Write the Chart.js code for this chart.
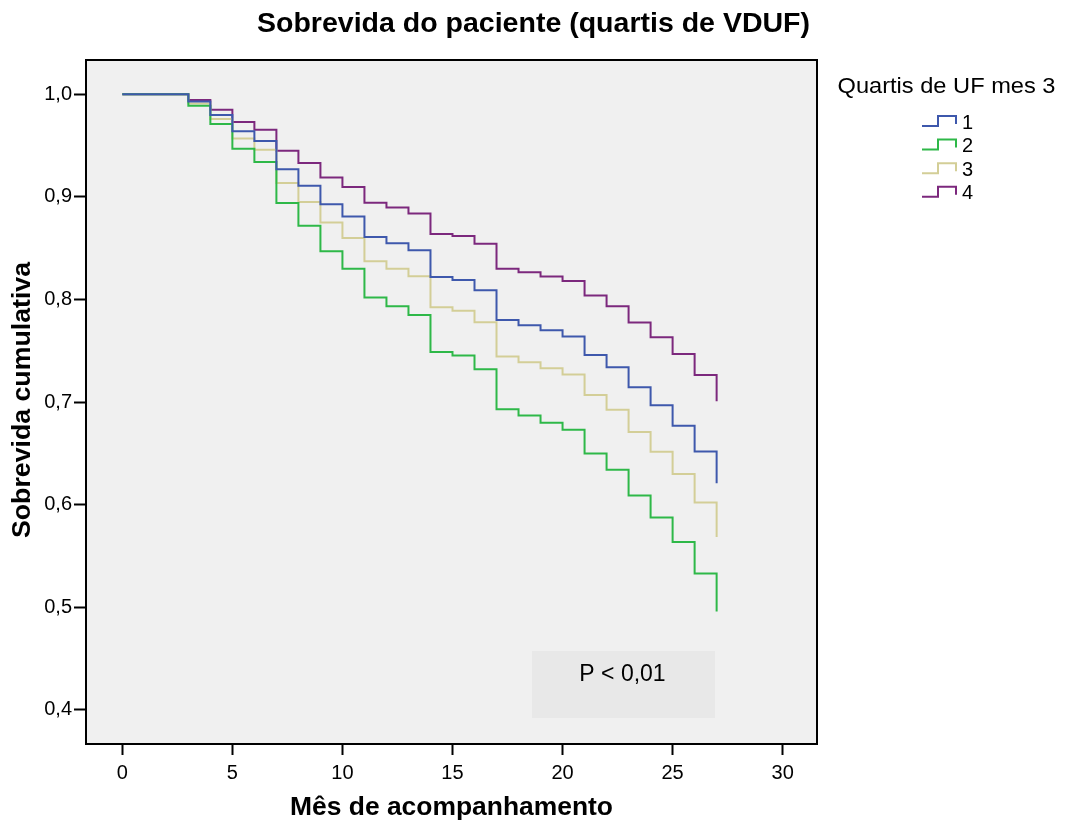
<!DOCTYPE html>
<html lang="pt">
  <head>
    <meta charset="UTF-8" />
    <title>Sobrevida do paciente</title>
    <script src="https://cdn.jsdelivr.net/npm/chart.js"></script>
    <style>
      body { margin: 0; background: #fff; }
      canvas { display: block; }
    </style>
  </head>
  <body>
    <canvas id="survChart" width="1066" height="822"></canvas>

    <script>
      // months where the curves step (0 = start of follow-up)
      const months = [0, 3, 4, 5, 6, 7, 8, 9, 10, 11, 12, 13, 14, 15, 16, 17, 18, 19, 20, 21, 22, 23, 24, 25, 26, 27];

      // cumulative survival per UF quartile
      const q1 = [1.0, 0.993, 0.980, 0.964, 0.9545, 0.927, 0.911, 0.893, 0.881, 0.861, 0.855, 0.848, 0.822, 0.819, 0.809, 0.780, 0.775, 0.770, 0.764, 0.746, 0.734, 0.7145, 0.697, 0.677, 0.652, 0.621];
      const q2 = [1.0, 0.989, 0.971, 0.947, 0.934, 0.894, 0.872, 0.847, 0.830, 0.802, 0.7935, 0.785, 0.749, 0.7454, 0.732, 0.693, 0.687, 0.680, 0.673, 0.650, 0.634, 0.609, 0.5876, 0.5636, 0.533, 0.496];
      const q3 = [1.0, 0.991, 0.976, 0.957, 0.946, 0.9135, 0.895, 0.875, 0.860, 0.8374, 0.830, 0.8228, 0.7925, 0.789, 0.778, 0.7444, 0.739, 0.733, 0.727, 0.707, 0.6927, 0.671, 0.6517, 0.630, 0.6022, 0.5685];
      const q4 = [1.0, 0.9945, 0.985, 0.973, 0.9655, 0.945, 0.933, 0.919, 0.9096, 0.8943, 0.8898, 0.884, 0.864, 0.862, 0.8543, 0.830, 0.8267, 0.8224, 0.818, 0.804, 0.7935, 0.7776, 0.7632, 0.747, 0.7265, 0.7008];

      const seriesLabels = ["1", "2", "3", "4"];
      const seriesColors = ["#3e58ac", "#2eb848", "#d3ce97", "#7c287d"];

      const xTicks = [0, 5, 10, 15, 20, 25, 30];
      const yTicks = [0.4, 0.5, 0.6, 0.7, 0.8, 0.9, 1.0];

      const FONT = "'Liberation Sans', Arial, sans-serif";

      function toPoints(values) {
        return months.map((m, i) => ({ x: m, y: values[i] }));
      }

      // draw text squeezed/stretched to a given width
      function fitText(ctx, text, cx, cy, width, font, angle) {
        ctx.save();
        ctx.font = font;
        const w = ctx.measureText(text).width;
        ctx.translate(cx, cy);
        if (angle) ctx.rotate(angle);
        ctx.scale(width / w, 1);
        ctx.textAlign = "center";
        ctx.textBaseline = "middle";
        ctx.fillStyle = "#000";
        ctx.fillText(text, 0, 0);
        ctx.restore();
      }

      const spssLook = {
        id: "spssLook",
        beforeDraw(chart) {
          const { ctx, chartArea: a } = chart;
          ctx.save();
          ctx.fillStyle = "#fff";
          ctx.fillRect(0, 0, chart.width, chart.height);
          ctx.fillStyle = "#f0f0f0";
          ctx.fillRect(a.left, a.top, a.right - a.left, a.bottom - a.top);
          // p-value box
          ctx.fillStyle = "#e8e8e8";
          ctx.fillRect(532, 651, 183, 67);
          ctx.font = "23px " + FONT;
          ctx.fillStyle = "#000";
          ctx.textAlign = "center";
          ctx.textBaseline = "middle";
          ctx.fillText("P < 0,01", 622.5, 675);
          ctx.restore();
        },
        afterDatasetsDraw(chart) {
          const { ctx, chartArea: a } = chart;
          ctx.save();
          ctx.strokeStyle = "#000";
          ctx.lineWidth = 2;
          ctx.strokeRect(a.left, a.top, a.right - a.left, a.bottom - a.top);
          ctx.restore();
        },
        afterDraw(chart) {
          const ctx = chart.ctx;
          fitText(ctx, "Sobrevida do paciente (quartis de VDUF)", 533.5, 24, 553, "bold 28px " + FONT);
          fitText(ctx, "Mês de acompanhamento", 451.5, 808, 323, "bold 26px " + FONT);
          fitText(ctx, "Sobrevida cumulativa", 23, 400, 276, "bold 26px " + FONT, -Math.PI / 2);

          // legend
          fitText(ctx, "Quartis de UF mes 3", 946.5, 87, 218, "22px " + FONT);
          chart.data.datasets.forEach((ds, i) => {
            const yLow = 126 + i * 23.6;
            const yHigh = yLow - 10;
            ctx.save();
            ctx.strokeStyle = ds.borderColor;
            ctx.lineWidth = 2;
            ctx.beginPath();
            ctx.moveTo(922, yLow);
            ctx.lineTo(938, yLow);
            ctx.lineTo(938, yHigh);
            ctx.lineTo(956, yHigh);
            ctx.lineTo(956, yHigh + 8);
            ctx.stroke();
            ctx.fillStyle = "#000";
            ctx.font = "20px " + FONT;
            ctx.textAlign = "left";
            ctx.textBaseline = "middle";
            ctx.fillText(ds.label, 962, yLow - 3);
            ctx.restore();
          });
        },
      };

      const datasets = [q1, q2, q3, q4].map((vals, i) => ({
        label: seriesLabels[i],
        data: toPoints(vals),
        borderColor: seriesColors[i],
        borderWidth: 2,
        pointRadius: 0,
        fill: false,
        stepped: "before",
      }));

      new Chart(document.getElementById("survChart"), {
        type: "line",
        data: { datasets: datasets },
        options: {
          responsive: false,
          animation: false,
          layout: { padding: { left: 0, top: 60, right: 249, bottom: 0 } },
          plugins: {
            legend: { display: false },
            title: { display: false },
            tooltip: { enabled: false },
          },
          scales: {
            x: {
              type: "linear",
              min: -1.65,
              max: 31.56,
              afterBuildTicks: (s) => { s.ticks = xTicks.map((v) => ({ value: v })); },
              afterFit: (s) => { s.height = 78; },
              border: { display: false },
              grid: {
                display: true,
                drawOnChartArea: false,
                drawTicks: true,
                tickLength: 11,
                tickColor: "#000",
                tickWidth: 2,
              },
              ticks: {
                color: "#000",
                font: { family: FONT, size: 20 },
                padding: 6,
                maxRotation: 0,
              },
            },
            y: {
              type: "linear",
              min: 0.3668,
              max: 1.0335,
              afterBuildTicks: (s) => { s.ticks = yTicks.map((v) => ({ value: v })); },
              afterFit: (s) => { s.width = 86; },
              border: { display: false },
              grid: {
                display: true,
                drawOnChartArea: false,
                drawTicks: true,
                tickLength: 12,
                tickColor: "#000",
                tickWidth: 2,
              },
              ticks: {
                color: "#000",
                font: { family: FONT, size: 20 },
                padding: 2,
                callback: (v) => v.toFixed(1).replace(".", ","),
              },
            },
          },
        },
        plugins: [spssLook],
      });
    </script>
  </body>
</html>
